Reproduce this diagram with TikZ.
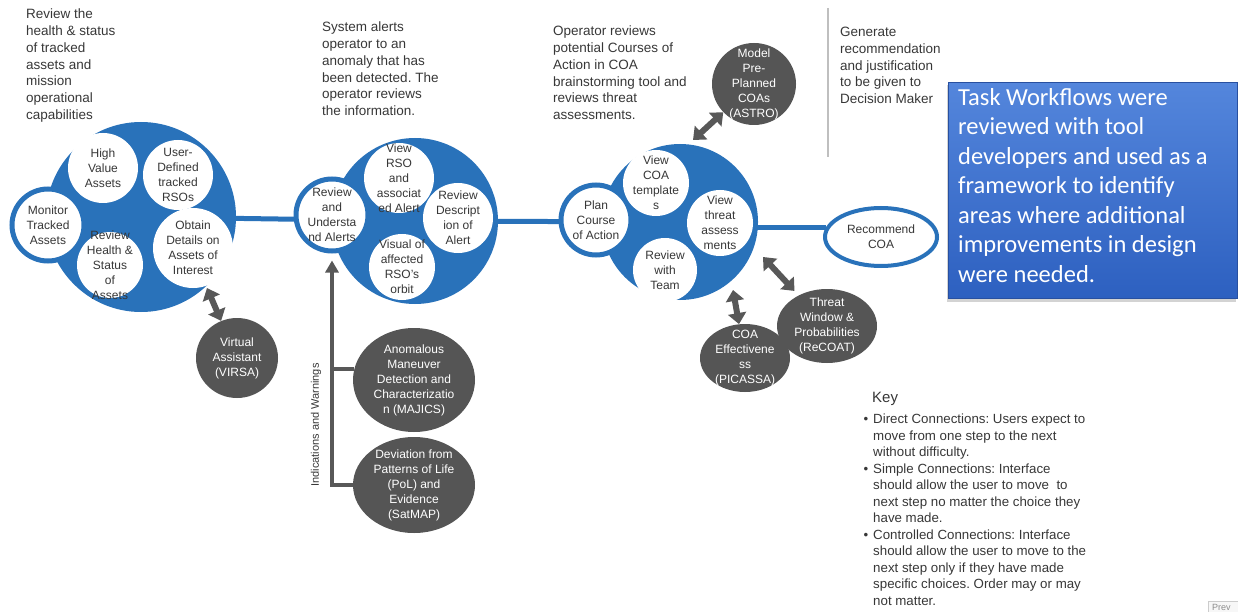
\documentclass[tikz,border=0pt]{standalone}
\usepackage{fontspec}
\setmainfont{Liberation Sans}
\newfontfamily\boxfont{Carlito}
\usetikzlibrary{arrows.meta,shapes.geometric,shadows,backgrounds}
\definecolor{blueM}{RGB}{41,114,186}
\definecolor{darkC}{RGB}{85,85,85}
\definecolor{arrC}{RGB}{88,88,88}
\definecolor{txt}{RGB}{55,55,55}
\definecolor{boxTop}{RGB}{84,134,220}
\definecolor{boxBot}{RGB}{45,96,192}
\definecolor{boxLine}{RGB}{40,80,160}
\frenchspacing
\begin{document}
\begin{tikzpicture}[x=1pt,y=-1pt,
  blob/.style={circle, fill=blueM, inner sep=0},
  ring/.style={circle, fill=white, draw=blueM, line width=5pt, inner sep=0},
  wc/.style={circle, fill=white, inner sep=0},
  dk/.style={ellipse, fill=darkC, inner sep=0},
  lbl/.style={align=center, font=\fontsize{12}{15}\selectfont, text=txt, inner sep=0},
  dlbl/.style={align=center, font=\fontsize{12}{15}\selectfont, text=white, inner sep=0},
  desc/.style={align=left, anchor=north west, font=\fontsize{13.5}{16.7}\selectfont, text=txt, inner sep=0},
  mainline/.style={draw=blueM, line width=5pt},
  dbl/.style={draw=arrC, line width=6pt, {Triangle[width=18pt,length=11pt]}-{Triangle[width=18pt,length=11pt]}},
  iw/.style={draw=arrC, line width=4pt},
  iwa/.style={draw=arrC, line width=4pt, -{Triangle[width=13pt,length=12pt]}}
]
\useasboundingbox (0,0) rectangle (1238,612);
\clip (0,0) rectangle (1238,612);

% ---------- group 1 ----------
\node[blob, minimum size=190] (g1) at (141,217) {};
\node[ring, minimum size=72, label={[lbl]center:{Monitor\\Tracked\\Assets}}] (mon) at (48,225) {};
\node[wc, minimum size=70, label={[lbl]center:{High\\Value\\Assets}}] (hva) at (103,168) {};
\node[wc, minimum size=70, label={[lbl]center:{User-\\Defined\\tracked\\RSOs}}] (udt) at (178,175) {};
\node[wc, minimum size=66, label={[lbl]center:{Review\\Health \&\\Status\\of\\Assets}}] (rhs) at (110,265) {};
\node[wc, minimum size=80, label={[lbl]center:{Obtain\\Details on\\Assets of\\Interest}}] (obt) at (193,248) {};

% ---------- group 2 ----------
\node[blob, minimum size=166] (g2) at (415,221) {};
\node[ring, minimum size=72, label={[lbl]center:{Review\\and\\Understa\\nd Alerts}}] (ru) at (332,215) {};
\node[wc, minimum size=70, label={[lbl]center:{View\\RSO\\and\\associat\\ed Alert}}] (vrso) at (399,178) {};
\node[wc, minimum size=70, label={[lbl]center:{Review\\Descript\\ion of\\Alert}}] (rda) at (458,218) {};
\node[wc, minimum size=66, label={[lbl]center:{Visual of\\affected\\RSO's\\orbit}}] (vao) at (402,267) {};

% ---------- group 3 ----------
\node[blob, minimum size=156] (g3) at (680,222) {};
\node[ring, minimum size=70, label={[lbl]center:{Plan\\Course\\of Action}}] (pca) at (596,220) {};
\node[wc, minimum size=66, label={[lbl]center:{View\\COA\\template\\s}}] (vcoa) at (656,183) {};
\node[wc, minimum size=66, label={[lbl]center:{View\\threat\\assess\\ments}}] (vta) at (720,223) {};
\node[wc, minimum size=64, label={[lbl]center:{Review\\with\\Team}}] (rwt) at (665,270) {};

% ---------- recommend ----------
\node[ellipse, fill=white, draw=blueM, line width=4pt, minimum width=112, minimum height=58, inner sep=0,
      label={[lbl]center:{Recommend\\COA}}] (rec) at (881,237) {};

% ---------- main connectors ----------
\begin{scope}[on background layer]
\draw[mainline] (g1) -- (g2);
\draw[mainline] (g2) -- (g3);
\draw[mainline] (rec.170) -- (rec.170 -| g3.center);
\end{scope}

% ---------- tool circles ----------
\node[dk, minimum width=82, minimum height=80, label={[dlbl]center:{Virtual\\Assistant\\(VIRSA)}}] (virsa) at (237,358) {};
\node[dk, minimum width=122, minimum height=104, label={[dlbl]center:{Anomalous\\Maneuver\\Detection and\\Characterizatio\\n (MAJICS)}}] (maj) at (414,380) {};
\node[dk, minimum width=122, minimum height=96, label={[dlbl]center:{Deviation from\\Patterns of Life\\(PoL) and\\Evidence\\(SatMAP)}}] (sat) at (414,485) {};
\node[dk, minimum width=84, minimum height=82, label={[dlbl]center:{Model\\Pre-\\Planned\\COAs\\(ASTRO)}}] (astro) at (754,84) {};
\node[dk, minimum width=100, minimum height=74, label={[dlbl]center:{Threat\\Window \&\\Probabilities\\(ReCOAT)}}] (recoat) at (827,326) {};
\node[dk, minimum width=90, minimum height=68, label={[dlbl]center:{COA\\Effectivene\\ss\\(PICASSA)}}] (pic) at (745,358) {};

% ---------- double arrows ----------
\coordinate (va1) at (207,288);
\coordinate (aa1) at (693,140);
\coordinate (ra1) at (763,257);
\coordinate (pa1) at (733,290);
\draw[dbl] (va1) -- (virsa);
\draw[dbl] (aa1) -- (astro);
\draw[dbl, shorten >=6pt] (ra1) -- (recoat);
\draw[dbl] (pa1) -- (pic);

% ---------- indications and warnings ----------
\draw[iw] (maj.170) -- (maj.170 -| ru.south);
\draw[iwa, shorten >=7pt] (sat.west) -| (ru.south);
\node[rotate=90, font=\fontsize{11}{13}\selectfont, text=txt, inner sep=0] (iwl) at (316,425) {Indications and Warnings};

% ---------- description texts ----------
\node[desc] (d1) at (26,9) {Review the\\health \& status\\of tracked\\assets and\\mission\\operational\\capabilities};
\node[desc] (d2) at (322,22) {System alerts\\operator to an\\anomaly that has\\been detected. The\\operator reviews\\the information.};
\node[desc] (d3) at (553,26) {Operator reviews\\potential Courses of\\Action in COA\\brainstorming tool and\\reviews threat\\assessments.};
\node[desc] (d4) at (840,27) {Generate\\recommendation\\and justification\\to be given to\\Decision Maker};

\coordinate (vl1) at (828,8);
\coordinate (vl2) at (828,157);
\draw[draw=black!25, line width=1.5pt] (vl1) -- (vl2);

% ---------- blue box ----------
\node[draw=boxLine, line width=1pt, top color=boxTop, bottom color=boxBot, minimum width=289, minimum height=216,
      anchor=north west, inner sep=0, drop shadow={opacity=0.35, shadow xshift=-2pt, shadow yshift=-3pt}] (bbox) at (948,82) {};
\node[anchor=north west, align=left, inner sep=0, text=white, font=\boxfont\fontsize{24.5}{29.5}\selectfont] (btxt) at (958,88)
 {Task Workflows were\\reviewed with tool\\developers and used as a\\framework to identify\\areas where additional\\improvements in design\\were needed.};

% ---------- key ----------
\node[anchor=west, inner sep=0, text=txt, font=\fontsize{15}{18}\selectfont] (key) at (872,399) {Key};
\node[desc, font=\fontsize{13.3}{16.5}\selectfont] (keytxt) at (873,414)
 {\llap{\textbullet\hspace{5pt}}Direct Connections: Users expect to\\
  move from one step to the next\\
  without difficulty.\\
  \llap{\textbullet\hspace{5pt}}Simple Connections: Interface\\
  should allow the user to move \ to\\
  next step no matter the choice they\\
  have made.\\
  \llap{\textbullet\hspace{5pt}}Controlled Connections: Interface\\
  should allow the user to move to the\\
  next step only if they have made\\
  specific choices. Order may or may\\
  not matter.};

% ---------- prev button fragment ----------
\node[draw=black!20, fill=black!3, anchor=north west, minimum width=40, minimum height=20, inner sep=0] (prevb) at (1208,601) {};
\node[anchor=north west, inner sep=0, text=black!45, font=\fontsize{9}{10}\selectfont] (prevt) at (1212,604) {Prev};
\end{tikzpicture}
\end{document}
